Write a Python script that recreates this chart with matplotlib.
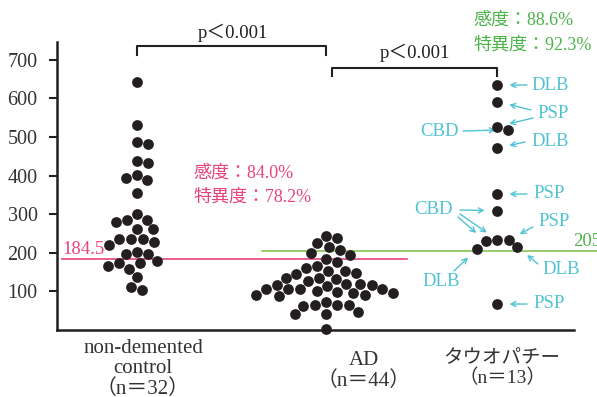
import numpy as np
import matplotlib.pyplot as plt

plt.rcParams['font.family'] = ['Liberation Serif', 'Noto Sans CJK JP']

# measured values per group
control = [642, 530, 486, 481, 438, 432, 402, 394, 388, 354, 300, 286, 285, 281,
           261, 261, 236, 236, 236, 228, 221, 202, 197, 197, 178, 173, 173, 167,
           159, 137, 112, 104]
ad = [243, 238, 225, 214, 206, 199, 194, 185, 175, 165, 161, 154, 154, 148, 145,
      135, 135, 132, 126, 120, 120, 116, 116, 113, 106, 106, 106, 106, 101, 98,
      96, 96, 91, 91, 87, 72, 64, 64, 64, 62, 47, 42, 42, 3]
tau = [634, 592, 527, 519, 471, 352, 309, 234, 234, 230, 215, 210, 67]
tau_type = ['DLB', 'PSP', 'PSP', 'CBD', 'DLB', 'PSP', 'CBD', 'CBD', 'PSP',
            'CBD', 'DLB', 'DLB', 'PSP']

group_names = ['non-demented\ncontrol\n（n＝32）', 'AD\n（n＝44）', 'タウオパチー\n（n＝13）']
positions = [1.0, 2.0, 2.905]

cut_ctrl_ad = 184.5
cut_ad_tau = 205
sens_spec_1 = (84.0, 78.2)
sens_spec_2 = (88.6, 92.3)

PINK = '#e8437a'
GREEN = '#4cb34a'
GREEN_LINE = '#86c651'
CYAN = '#4fc3d3'
INK = '#231f20'

W, H = 597, 397
fig = plt.figure(figsize=(W / 100, H / 100), dpi=100)
ax = fig.add_axes([57 / W, 67 / H, 517 / W, 288.3 / H])
ax.set_xlim(0.577, 3.312)
ax.set_ylim(0, 747)


def px(x, y):
    # figure pixel (from top-left) -> figure fraction
    return (x / W, 1 - y / H)


def swarm(center, values, d=11.5):
    # simple beeswarm, placing points from the highest value down
    pts = ax.transData.transform(np.column_stack([np.full(len(values), center), values]))
    cx = pts[0, 0]
    xs = np.empty(len(values))
    placed = []
    for i in np.argsort(-pts[:, 1], kind='stable'):
        y = pts[i, 1]
        near = [(x0, y0) for x0, y0 in placed if abs(y0 - y) < d]
        cands = [cx]
        for x0, y0 in near:
            dx = np.sqrt(d ** 2 - (y - y0) ** 2)
            cands += [x0 + dx, x0 - dx]
        cands.sort(key=lambda c: abs(c - cx))
        for c in cands:
            if all((c - x0) ** 2 + (y - y0) ** 2 >= d ** 2 - 1e-6 for x0, y0 in near):
                break
        xs[i] = c
        placed.append((c, y))
    return ax.transData.inverted().transform(np.column_stack([xs, pts[:, 1]]))[:, 0]


tau_x = None
for pos, vals in zip(positions, [control, ad, tau]):
    xs = swarm(pos, vals)
    ax.scatter(xs, vals, s=60, color=INK, linewidths=0, zorder=4, clip_on=False)
    if vals is tau:
        tau_x = xs

# cut-off lines
ax.plot([0.603, 2.429], [cut_ctrl_ad] * 2, color=PINK, lw=1.2, zorder=2, clip_on=False)
ax.plot([1.661, 3.45], [cut_ad_tau] * 2, color=GREEN_LINE, lw=1.2, zorder=2, clip_on=False)
fig.text(*px(62, 249), f'{cut_ctrl_ad}', color=PINK, fontsize=13.5, va='center')
fig.text(*px(573, 241), f'{cut_ad_tau}', color=GREEN, fontsize=13.5, va='center')

# significance brackets
ax.plot([1, 1, 2, 2], [713, 735, 735, 713], color=INK, lw=1.5, clip_on=False)
ax.plot([2.03, 2.03, 2.905, 2.905], [659, 679, 679, 659], color=INK, lw=1.5, clip_on=False)
fig.text(*px(233, 33), 'p＜0.001', fontsize=13.5, ha='center', va='center', color=INK)
fig.text(*px(415, 53), 'p＜0.001', fontsize=13.5, ha='center', va='center', color=INK)

# sensitivity / specificity
fig.text(*px(193, 173), f'感度：{sens_spec_1[0]:.1f}%', color=PINK, fontsize=13, va='center')
fig.text(*px(193, 197), f'特異度：{sens_spec_1[1]:.1f}%', color=PINK, fontsize=13, va='center')
fig.text(*px(473, 20), f'感度：{sens_spec_2[0]:.1f}%', color=GREEN, fontsize=13, va='center')
fig.text(*px(473, 45), f'特異度：{sens_spec_2[1]:.1f}%', color=GREEN, fontsize=13, va='center')

# subtype labels for the tauopathy group
labels = [(0, 531, 85, 'left'), (1, 537, 113, 'left'), (3, 459, 132, 'right'),
          (4, 531, 142, 'left'), (5, 533, 193, 'left'), (6, 453, 210, 'right'),
          (8, 538, 222, 'left'), (10, 542, 269, 'left'), (11, 460, 281, 'right'),
          (12, 533, 304, 'left')]
for idx, x, y, ha in labels:
    fig.text(*px(x, y), tau_type[idx], color=CYAN, fontsize=13.5, ha=ha, va='center')

arrows = [(0, 527, 85), (1, 531, 110), (2, 533, 118), (3, 463, 131), (4, 525, 142),
          (5, 527, 194), (6, 460, 210), (7, 460, 214), (9, 458, 217), (8, 533, 227),
          (10, 538, 264), (11, 454, 271), (12, 527, 304)]
for idx, x, y in arrows:
    ax.annotate('', xy=(tau_x[idx], tau[idx]), xycoords='data',
                xytext=px(x, y), textcoords='figure fraction',
                arrowprops=dict(arrowstyle='->,head_length=0.35,head_width=0.18',
                                color=CYAN, lw=1.0, shrinkA=0, shrinkB=9),
                annotation_clip=False)

# group labels under the axis
for (x, y), name, size in zip([(143, 369), (364, 371), (502, 369)], group_names,
                              [15, 15, 14]):
    fig.text(*px(x, y), name, fontsize=size, ha='center', va='center',
             color='#333333', linespacing=1.1)

ax.set_xticks([])
ax.set_yticks(range(100, 701, 100))
ax.tick_params(axis='y', length=6, width=1.5, pad=8, labelsize=14.5,
               labelcolor='#333333', color=INK)
for side in ['top', 'right']:
    ax.spines[side].set_visible(False)
for side in ['left', 'bottom']:
    ax.spines[side].set_linewidth(1.8)
    ax.spines[side].set_color(INK)

fig.savefig('out.png', dpi=100)
